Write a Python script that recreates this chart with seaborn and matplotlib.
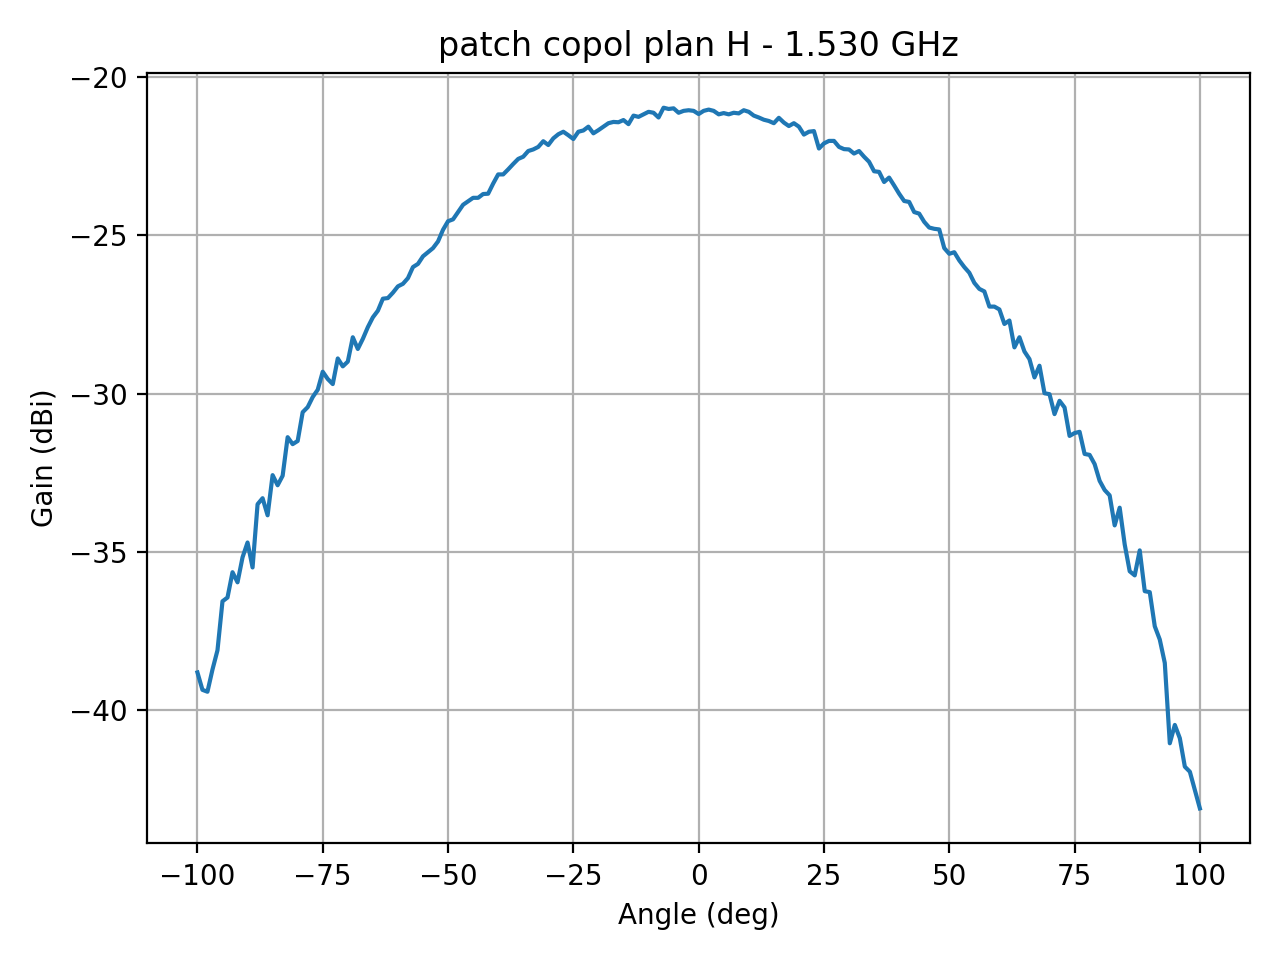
import numpy as np
import pandas as pd
import matplotlib
matplotlib.use("Agg")
import matplotlib.pyplot as plt
import seaborn as sns

angles = list(range(-100, 101))

gain = [
    -38.82, -39.37, -39.43, -38.73, -38.12, -36.57, -36.45, -35.65, -35.97, -35.18,
    -34.71, -35.50, -33.50, -33.31, -33.85, -32.58, -32.90, -32.60, -31.38, -31.60,
    -31.50, -30.59, -30.43, -30.11, -29.88, -29.31, -29.54, -29.70, -28.89, -29.14,
    -28.99, -28.22, -28.59, -28.27, -27.90, -27.59, -27.38, -27.00, -26.98, -26.81,
    -26.61, -26.53, -26.35, -26.00, -25.90, -25.66, -25.53, -25.40, -25.19, -24.82,
    -24.55, -24.49, -24.26, -24.03, -23.92, -23.81, -23.81, -23.69, -23.68, -23.36,
    -23.07, -23.07, -22.91, -22.74, -22.58, -22.51, -22.33, -22.28, -22.20, -22.02,
    -22.14, -21.93, -21.80, -21.72, -21.83, -21.95, -21.72, -21.68, -21.56, -21.77,
    -21.67, -21.56, -21.45, -21.41, -21.42, -21.35, -21.48, -21.21, -21.25, -21.17,
    -21.09, -21.12, -21.27, -20.96, -21.00, -20.98, -21.12, -21.06, -21.04, -21.06,
    -21.16,
    -21.06, -21.02, -21.06, -21.17, -21.13, -21.17, -21.12, -21.14, -21.04, -21.09,
    -21.21, -21.27, -21.34, -21.38, -21.45, -21.28, -21.43, -21.54, -21.45, -21.56,
    -21.81, -21.72, -21.70, -22.25, -22.09, -22.01, -22.01, -22.20, -22.27, -22.28,
    -22.41, -22.33, -22.51, -22.67, -22.97, -22.99, -23.31, -23.17, -23.42, -23.68,
    -23.91, -23.94, -24.26, -24.31, -24.57, -24.75, -24.79, -24.81, -25.40, -25.58,
    -25.53, -25.79, -26.00, -26.18, -26.50, -26.69, -26.77, -27.25, -27.25, -27.34,
    -27.80, -27.69, -28.54, -28.22, -28.67, -28.91, -29.49, -29.12, -29.99, -30.02,
    -30.65, -30.23, -30.44, -31.34, -31.25, -31.21, -31.91, -31.94, -32.23, -32.76,
    -33.05, -33.22, -34.17, -33.61, -34.77, -35.62, -35.75, -34.96, -36.25, -36.28,
    -37.36, -37.78, -38.52, -41.06, -40.48, -40.90, -41.80, -41.96, -42.54, -43.12,
]

title = "patch copol plan H - 1.530 GHz"
xlabel = "Angle (deg)"
ylabel = "Gain (dBi)"

df = pd.DataFrame({"angle": angles, "gain": gain})

fig, ax = plt.subplots(figsize=(6.4, 4.8), dpi=200)
sns.lineplot(data=df, x="angle", y="gain", ax=ax, color="#1f77b4", linewidth=1.5)
ax.set_title(title)
ax.set_xlabel(xlabel)
ax.set_ylabel(ylabel)
ax.grid(True)
fig.tight_layout()
fig.savefig("out.png", dpi=200)
